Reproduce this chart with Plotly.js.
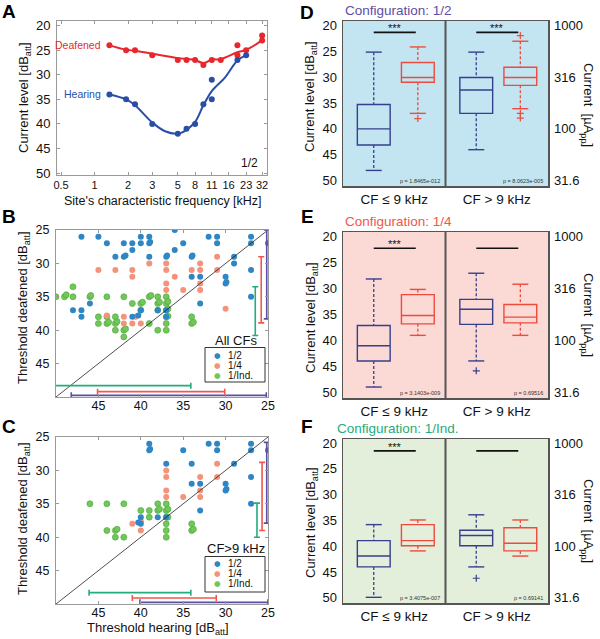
<!DOCTYPE html>
<html><head><meta charset="utf-8">
<script src="https://cdn.plot.ly/plotly-3.0.1.min.js"></script>
<style>html,body{margin:0;padding:0;background:#fff}#chart{width:600px;height:639px}</style>
</head><body><div id="chart"></div>
<script>
// ================= DATA =================
// Panel A: thresholds vs site CF (configuration 1/2)
const freqDeaf  = [1.36,1.92,2.31,3.3,5.6,6.7,8,9.5,11.3,13.6,19.2,19.2,23,32,32];
const levelDeaf = [24,25,25,26,27,27,27,28,27,27,24,26,25,22,23];
const freqHear  = [1.36,1.92,2.31,3.3,5.6,6.7,8,9.5,11.3,11.3,19.2,23];
const levelHear = [34,35,36,40,42,41,40,36,31,35,27,26];
const fitFreqDeaf = [1.36,1.92,2.31,3.3,5.6,6.7,8,9.5,11.3,13.6,19.2,23,32];
const fitLevelDeaf = [24,24.9,25.1,25.7,26.6,26.8,27.0,27.6,26.9,26.8,25.4,24.9,23.0];
const fitFreqHear = [1.36,1.92,2.31,3.3,4.3,5.6,6.7,8,9.5,11.3,14.9,19.2,23];
const fitLevelHear = [34,35,36.2,39.7,41.5,42,41.2,39.6,36.2,33.3,30.5,27.1,26];
const freqTickVals = [0.5,1,2,3.3,5.6,8,11.3,16,23,32];
const freqTickText = ['0.5','1','2','3','5','8','11','16','23','32'];

// Panel B: all CFs, [threshold hearing, threshold deafened]
const allHalf = [[47,26],[45,26],[44,27],[43,29],[42,27],[42,29],[41.8,28.8],[41,27],[41,28],[40,26],[40,27],[39,26],[39,27],[38.9,26.8],[39,29],[37,29],[36.9,28.8],[36,25],[36,28],[35,27],[34,29],[33.9,28.8],[34,32],[33,32],[33,36],[32,26],[31,26],[31,27],[29,29],[29,30],[30,32],[30,33],[29.9,32.8],[27,26],[27,27],[27,31],[27,35],[25,27],[48,37],[47,37],[47,38],[46,36],[41,38],[40,37],[40.3,37.8],[38,37],[37,37],[37,38]];
const allQuarter = [[45,31],[43,31],[41,31],[41,32],[39,30],[37,30],[37,31],[37,33],[37,34],[36,32],[35,34],[34,31],[33,30],[33,31],[33,33],[33,34],[31,29],[31,31],[30,36.8],[44,37.8],[42,38],[42,39],[41,39],[40,39],[40.6,38]];
const allInd = [[50,35],[49,35],[48.8,34.7],[48,33.5],[48,35],[46,35],[45.9,34.8],[45,38],[45,39],[44,35],[44,38],[44,39],[43.8,38.8],[43,38],[43,39],[43,40],[42.8,38.7],[42,35],[42,40],[41.8,39.8],[42,41],[41,36],[40,36],[39.8,35.8],[40,37],[39,39],[39,35],[38.8,34.8],[38,35],[38,36],[38,37],[38,40],[37.8,35.8],[37,35],[37,36],[37,37],[37,38],[37,39],[37,40],[36.8,35.7],[36.8,36.8],[36.8,37.9],[34,38],[34,39],[33.8,38.8]];

// Panel C: CF > 9 kHz
const hiHalf = [[39,26],[39,27],[38.9,26.8],[35,27],[32,26],[31,26],[31,27],[27,26],[27,27],[25,27],[37,29],[34,29],[29,29],[34,32],[33,32],[30,32],[30,33],[29.9,32.8],[27,31],[27,35],[33,36],[40,37],[40,38],[40.3,37.8],[38,37],[37,37]];
const hiQuarter = [[31,29],[31,31],[37,30],[37,31],[37,33],[37,34],[35,34],[33,31],[33,33],[33,34],[41,38],[40,39],[40,37.6]];
const hiInd = [[46,35],[44,35],[42,35],[44,39],[43,39],[42.8,38.8],[43,40],[42,40],[40,36],[39,36],[39,37],[38,35],[38,36],[37.8,35.8],[37,35],[37,36],[37,37],[37,38],[37,39],[37,40],[36.8,35.8],[36.8,37],[34,38],[34,39],[33.8,38.8]];

// Mean ± SD bars (hearing = horizontal, deafened = vertical), order: 1/2, 1/4, 1/Ind.
const configNames = ['1/2','1/4','1/Ind.'];
const allHearMean = [36.7,37.6,42.2], allHearSD = [11.5,7.5,8.1];
const allDeafMean = [31.65,33.95,37.15], allDeafSD = [6.65,4.95,3.65];
const hiHearMean = [32.55,36.05,40.1], hiHearSD = [7.55,4.95,6.0];
const hiDeafMean = [31.85,33.9,37.45], hiDeafSD = [6.05,5.1,2.55];

// Panels D-F: box statistics [CF<=9kHz, CF>9kHz]
const cfGroups = ['CF \u2264 9 kHz','CF > 9 kHz'];
const hear12_top=[25.2,25.2], hear12_q1=[35.3,30.1], hear12_med=[40.0,32.5], hear12_q3=[43.1,37.0], hear12_bot=[48.0,44.0], hear12_out=[[],[]];
const deaf12_top=[24.2,23.1], deaf12_q1=[27.2,28.1], deaf12_med=[30.1,30.1], deaf12_q3=[31.0,31.6], deaf12_bot=[37.0,36.1], deaf12_out=[[38.0],[22.0,37.0,37.9]];
const hear14_top=[28.2,27.1], hear14_q1=[37.1,32.1], hear14_med=[41.0,34.0], hear14_q3=[43.9,36.9], hear14_bot=[48.9,43.9], hear14_out=[[],[45.8]];
const deaf14_top=[30.2,29.2], deaf14_q1=[31.2,33.1], deaf14_med=[35.2,35.5], deaf14_q3=[36.8,36.6], deaf14_bot=[39.0,39.0], deaf14_out=[[],[]];
const hear1i_top=[35.8,33.9], hear1i_q1=[38.9,36.9], hear1i_med=[41.9,37.9], hear1i_q3=[44.0,39.9], hear1i_bot=[49.9,44.0], hear1i_out=[[],[46.2]];
const deaf1i_top=[34.9,34.9], deaf1i_q1=[35.8,36.4], deaf1i_med=[38.9,39.4], deaf1i_q3=[39.9,40.9], deaf1i_bot=[40.9,41.9], deaf1i_out=[[],[]];
const sig12=['***','***'], sig14=['***',''], sig1i=['***',''];
const p12=['p = 1.8465e-012','p = 8.0623e-005'], p14=['p = 3.1403e-009','p = 0.69516'], p1i=['p = 3.4075e-007','p = 0.69141'];
const currentTickDb=[20,30,40,50], currentTickText=['1000','316','100','31.6'];
const levelTicks=[20,25,30,35,40,45,50];

// ================= STYLE / LAYOUT =================
const W=600,H=639;
const FONT='Liberation Sans, Arial, Helvetica, sans-serif';
const px=v=>v/W, py=v=>1-v/H;
const C_HALF='#2e86c4', C_QUART='#f4937a', C_IND='#72c65a';
const C_PURP='#5b4ea6', C_RED='#f0584a', C_GRN='#22ad7c';
const BOX_BLUE='#363f8e', BOX_RED='#ee4b3e';
const traces=[], shapes=[], annotations=[];
function ann(text,x,y,o){annotations.push(Object.assign({text:text,xref:'paper',yref:'paper',x:px(x),y:py(y),showarrow:false,xanchor:'center',yanchor:'middle',font:{family:FONT,size:13,color:'#111'}},o||{}));}

// ---- Panel A ----
traces.push({x:fitFreqDeaf,y:fitLevelDeaf,mode:'lines',line:{color:'#e8262b',width:2,shape:'spline',smoothing:1},xaxis:'x',yaxis:'y',hoverinfo:'skip'});
traces.push({x:fitFreqHear,y:fitLevelHear,mode:'lines',line:{color:'#2a4ea6',width:2,shape:'spline',smoothing:1},xaxis:'x',yaxis:'y',hoverinfo:'skip'});
traces.push({x:freqDeaf,y:levelDeaf,mode:'markers',marker:{color:'#e8262b',size:6},xaxis:'x',yaxis:'y',cliponaxis:false});
traces.push({x:freqHear,y:levelHear,mode:'markers',marker:{color:'#2a4ea6',size:6},xaxis:'x',yaxis:'y',cliponaxis:false});
ann('Deafened',102,44.5,{xanchor:'right',borderpad:0,font:{family:FONT,size:10.5,color:'#e8262b'}});
ann('Hearing',102,94,{xanchor:'right',borderpad:0,font:{family:FONT,size:10.5,color:'#2a4ea6'}});
ann('1/2',249,163,{font:{family:FONT,size:12,color:'#111'}});

// ---- Panels B, C ----
function scatterSet(xa,ya,sets){
  sets.forEach(s=>{
    traces.push({x:s.d.map(p=>p[0]),y:s.d.map(p=>p[1]),mode:'markers',xaxis:xa,yaxis:ya,
      marker:{color:s.c,size:6,line:{color:s.lc,width:s.lw}}});
  });
}
scatterSet('x2','y2',[{d:allInd,c:C_IND,lc:'#52ad3e',lw:0.7},{d:allQuarter,c:C_QUART,lc:C_QUART,lw:0},{d:allHalf,c:C_HALF,lc:C_HALF,lw:0}]);
scatterSet('x3','y3',[{d:hiInd,c:C_IND,lc:'#52ad3e',lw:0.7},{d:hiQuarter,c:C_QUART,lc:C_QUART,lw:0},{d:hiHalf,c:C_HALF,lc:C_HALF,lw:0}]);
const diag=[25,50];
['2','3'].forEach(k=>traces.push({x:diag,y:diag,mode:'lines',line:{color:'#222',width:0.8},xaxis:'x'+k,yaxis:'y'+k,hoverinfo:'skip'}));

const barColors=[C_PURP,C_RED,C_GRN];
function meanBars(xa,ya,hm,hs,dm,ds,hY,vX){
  for(let i=0;i<3;i++){
    traces.push({x:[hm[i]],y:[hY[i]],mode:'markers',marker:{size:1,color:'rgba(0,0,0,0)'},xaxis:xa,yaxis:ya,
      error_x:{type:'constant',value:hs[i],color:barColors[i],thickness:1.6,width:3}});
    traces.push({x:[vX[i]],y:[dm[i]],mode:'markers',marker:{size:1,color:'rgba(0,0,0,0)'},xaxis:xa,yaxis:ya,
      error_y:{type:'constant',value:ds[i],color:barColors[i],thickness:1.6,width:3}});
  }
}
meanBars('x2','y2',allHearMean,allHearSD,allDeafMean,allDeafSD,[49.75,49.2,48.3],[25.15,25.8,26.5]);
meanBars('x3','y3',hiHearMean,hiHearSD,hiDeafMean,hiDeafSD,[49.75,49.1,48.3],[25.15,25.7,26.3]);

function manualLegend(title,titleY,boxTop,boxBot,itemYs,markX,textX){
  shapes.push({type:'rect',xref:'paper',yref:'paper',x0:px(205),x1:px(265),y0:py(boxBot),y1:py(boxTop),line:{color:'#333',width:1},fillcolor:'#fff',layer:'above'});
  ann(title,236,titleY,{font:{family:FONT,size:13,color:'#111'}});
  const cols=[C_HALF,C_QUART,C_IND];
  configNames.forEach((n,i)=>{
    ann('\u25CF',markX,itemYs[i],{borderpad:0,font:{family:'DejaVu Sans',size:7.5,color:cols[i]}});
    ann(n,textX,itemYs[i],{xanchor:'left',borderpad:0,font:{family:FONT,size:10,color:'#111'}});
  });
}
manualLegend('All CFs',340,347.5,382,[355.5,365.5,375],217,227);
manualLegend('CF>9 kHz',548,556.5,592,[563,573,583],217,227);

// ---- Panels D, E, F ----
const POS=[0.3,0.73], BOXW=0.32, CAP=0.078;
const boxPanels=[
 {xa:'x4',ya:'y4',yr:'y5',kx:'xaxis4',ky:'yaxis4',kr:'yaxis5',dom:[21,186],bg:'#c2e5f1',title:'Configuration: 1/2',tc:C_PURP,ty:10.5,
  hear:[hear12_top,hear12_q1,hear12_med,hear12_q3,hear12_bot,hear12_out],deaf:[deaf12_top,deaf12_q1,deaf12_med,deaf12_q3,deaf12_bot,deaf12_out],sig:sig12,p:p12,sigY:21.4,yt:97,rt:105},
 {xa:'x5',ya:'y6',yr:'y7',kx:'xaxis5',ky:'yaxis6',kr:'yaxis7',dom:[232,398],bg:'#fbd9d4',title:'Configuration: 1/4',tc:C_RED,ty:221,
  hear:[hear14_top,hear14_q1,hear14_med,hear14_q3,hear14_bot,hear14_out],deaf:[deaf14_top,deaf14_q1,deaf14_med,deaf14_q3,deaf14_bot,deaf14_out],sig:sig14,p:p14,sigY:22.3,yt:318,rt:315},
 {xa:'x6',ya:'y8',yr:'y9',kx:'xaxis6',ky:'yaxis8',kr:'yaxis9',dom:[439,603],bg:'#e3eedb',title:'Configuration: 1/Ind.',tc:C_GRN,ty:428,
  hear:[hear1i_top,hear1i_q1,hear1i_med,hear1i_q3,hear1i_bot,hear1i_out],deaf:[deaf1i_top,deaf1i_q1,deaf1i_med,deaf1i_q3,deaf1i_bot,deaf1i_out],sig:sig1i,p:p1i,sigY:21.5,yt:523,rt:521}
];
const layout={width:W,height:H,margin:{l:0,r:0,t:0,b:0},paper_bgcolor:'#fff',plot_bgcolor:'rgba(0,0,0,0)',showlegend:false,
  font:{family:FONT,color:'#111'},shapes:shapes,annotations:annotations};

function addBoxes(P,stats,posIdx,color){
  const [top,q1,med,q3,bot,out]=stats;
  const xs=cfGroups.map((g,i)=>i+POS[posIdx]);
  traces.push({type:'box',x:xs,q1:q1,median:med,q3:q3,lowerfence:q1,upperfence:q3,width:BOXW,whiskerwidth:0,
    fillcolor:'rgba(0,0,0,0)',line:{color:color,width:1.4},xaxis:P.xa,yaxis:P.ya,hoverinfo:'skip',boxpoints:false});
  const wx=[],wy=[],cx=[],cy=[],ox=[],oy=[];
  xs.forEach((x,i)=>{
    wx.push(x,x,null,x,x,null); wy.push(top[i],q1[i],null,q3[i],bot[i],null);
    cx.push(x-CAP,x+CAP,null,x-CAP,x+CAP,null); cy.push(top[i],top[i],null,bot[i],bot[i],null);
    out[i].forEach(v=>{ox.push(x);oy.push(v);});
  });
  traces.push({x:wx,y:wy,mode:'lines',line:{color:color,width:1.3,dash:'3px,2px'},xaxis:P.xa,yaxis:P.ya,hoverinfo:'skip'});
  traces.push({x:cx,y:cy,mode:'lines',line:{color:color,width:1.4},xaxis:P.xa,yaxis:P.ya,hoverinfo:'skip'});
  if(ox.length) traces.push({x:ox,y:oy,mode:'markers',marker:{symbol:'cross-thin',size:5,line:{color:color,width:1.2}},xaxis:P.xa,yaxis:P.ya});
}

boxPanels.forEach(P=>{
  const dom=[py(P.dom[1]),py(P.dom[0])];
  layout[P.kx]={domain:[px(343),px(548)],range:[0,2],anchor:P.ya,tickvals:[0.5,1.5],ticktext:cfGroups,ticks:'',showgrid:false,zeroline:false,
    showline:true,mirror:true,linecolor:'#555',linewidth:1.5,tickfont:{family:FONT,size:13.5,color:'#111'},fixedrange:true};
  layout[P.ky]={domain:dom,range:[51,19.2],anchor:P.xa,tickvals:levelTicks,ticks:'',showgrid:false,zeroline:false,
    showline:true,linecolor:'#555',linewidth:1.5,tickfont:{family:FONT,size:13,color:'#111'},ticklabelstandoff:2};
  layout[P.kr]={domain:dom,range:[51,19.2],anchor:P.xa,overlaying:P.ya,side:'right',tickvals:currentTickDb,ticktext:currentTickText,
    ticks:'',showgrid:false,zeroline:false,showline:true,linecolor:'#555',linewidth:1.5,tickfont:{family:FONT,size:13,color:'#111'},ticklabelstandoff:2};
  traces.push({x:[null],y:[null],xaxis:P.xa,yaxis:P.yr,mode:'markers',hoverinfo:'skip'});
  shapes.push({type:'rect',xref:P.xa+' domain',yref:P.ya+' domain',x0:0,x1:1,y0:0,y1:1,fillcolor:P.bg,line:{width:0},layer:'below'});
  shapes.push({type:'line',xref:P.xa,yref:P.ya+' domain',x0:1,x1:1,y0:0,y1:1,line:{color:'#555',width:2}});
  addBoxes(P,P.hear,0,BOX_BLUE);
  addBoxes(P,P.deaf,1,BOX_RED);
  cfGroups.forEach((g,i)=>{
    shapes.push({type:'line',xref:P.xa,yref:P.ya,x0:i+POS[0],x1:i+POS[1]-0.02,y0:P.sigY,y1:P.sigY,line:{color:'#111',width:1.6}});
    if(P.sig[i]) annotations.push({text:P.sig[i],xref:P.xa,yref:P.ya,x:i+(POS[0]+POS[1])/2-0.01,y:P.sigY,yanchor:'bottom',yshift:-4,showarrow:false,font:{family:FONT,size:11,color:'#111'}});
    annotations.push({text:P.p[i],xref:P.xa,yref:P.ya,x:i+0.97,y:50.1,xanchor:'right',yanchor:'middle',showarrow:false,font:{family:FONT,size:5.5,color:'#333'}});
  });
  ann(P.title,398,P.ty,{font:{family:FONT,size:13.5,color:P.tc}});
  ann('Current level [dB<sub>att</sub>]',311,P.yt,{textangle:-90,font:{family:FONT,size:13,color:'#111'}});
  ann('Current  [\u00B5A<sub>pp</sub>]',588,P.rt,{textangle:90,font:{family:FONT,size:13,color:'#111'}});
});

// ---- Axes A, B, C ----
const thinAxis={showline:true,mirror:'ticks',linecolor:'#999',linewidth:1,ticks:'inside',ticklen:3,tickcolor:'#999',showgrid:false,zeroline:false};
layout.xaxis=Object.assign({},thinAxis,{domain:[px(57),px(267)],type:'log',range:[Math.log10(0.46),Math.log10(35.4)],anchor:'y',
  tickvals:freqTickVals,ticktext:freqTickText,tickfont:{family:FONT,size:11,color:'#111'}});
layout.yaxis=Object.assign({},thinAxis,{domain:[py(175),py(21)],range:[50.4,19.04],anchor:'x',tickvals:levelTicks,tickfont:{family:FONT,size:13,color:'#111'},ticklabelstandoff:3});
const thrTicks=[25,30,35,40,45];
layout.xaxis2=Object.assign({},thinAxis,{domain:[px(56),px(268)],range:[50,25],anchor:'y2',tickvals:thrTicks,tickfont:{family:FONT,size:12.5,color:'#111'},ticklabelstandoff:-3});
layout.yaxis2=Object.assign({},thinAxis,{domain:[py(397),py(230)],range:[50,25],anchor:'x2',tickvals:thrTicks,tickfont:{family:FONT,size:12.5,color:'#111'},ticklabelstandoff:3});
layout.xaxis3=Object.assign({},thinAxis,{domain:[px(56),px(268)],range:[50,25],anchor:'y3',tickvals:thrTicks,tickfont:{family:FONT,size:12.5,color:'#111'},ticklabelstandoff:-3});
layout.yaxis3=Object.assign({},thinAxis,{domain:[py(604),py(437)],range:[50,25],anchor:'x3',tickvals:thrTicks,tickfont:{family:FONT,size:12.5,color:'#111'},ticklabelstandoff:3});

ann('Current level [dB<sub>att</sub>]',24,98,{textangle:-90});
ann("Site's characteristic frequency [kHz]",163,201,{font:{family:FONT,size:12.5,color:'#111'}});
ann('Threshold deafened [dB<sub>att</sub>]',23,308,{textangle:-90});
ann('Threshold deafened [dB<sub>att</sub>]',23,519,{textangle:-90});
ann('Threshold hearing [dB<sub>att</sub>]',158,628);

// panel letters
[['A',9,11],['B',9,216],['C',9,426],['D',307,12],['E',307,216],['F',307,426]].forEach(l=>
  ann(l[0],l[1],l[2],{font:{family:FONT,size:19,color:'#000',weight:'bold'}}));

Plotly.newPlot('chart',traces,layout,{staticPlot:true,displayModeBar:false});
</script></body></html>
